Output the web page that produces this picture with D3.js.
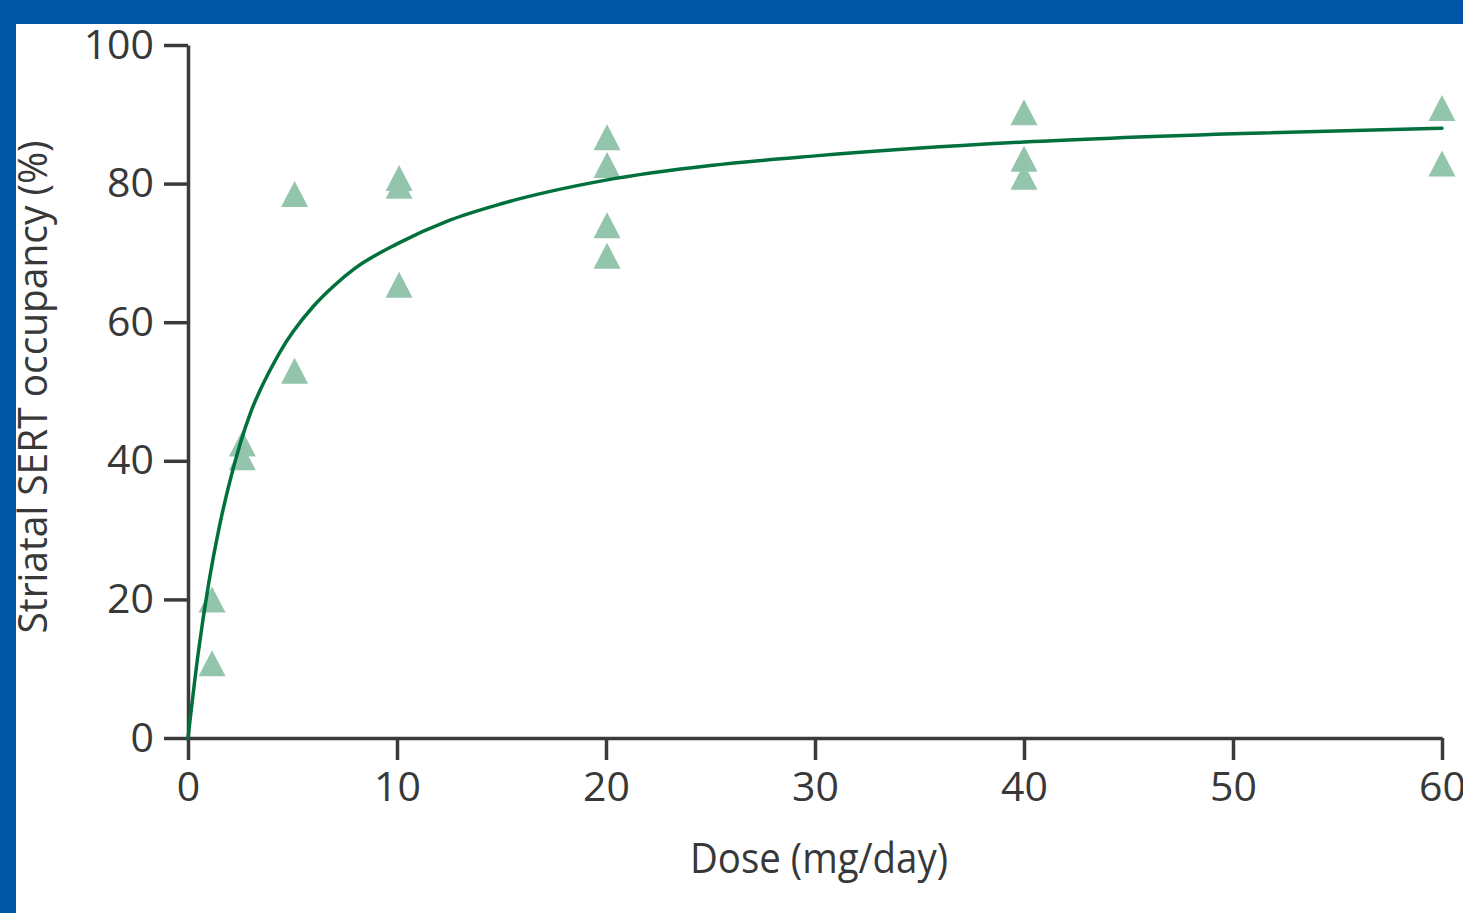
<!DOCTYPE html>
<html>
<head>
<meta charset="utf-8">
<script src="https://cdn.jsdelivr.net/npm/d3@7"></script>
<style>
  html, body { margin: 0; padding: 0; background: #ffffff; }
  svg { display: block; }
</style>
</head>
<body>
<div id="chart"></div>
<script>
// ---- data ----
const pointDose = [1.15, 1.15, 2.6, 2.6, 5.1, 5.1, 10.1, 10.1, 10.1, 20.05, 20.05, 20.05, 20.05, 40, 40, 40, 60, 60];
const pointOccupancy = [20, 10.8, 42.5, 40.5, 78.5, 53, 80.8, 79.7, 65.4, 86.7, 82.7, 74.0, 69.6, 90.3, 83.6, 81.0, 90.9, 82.9];

const curveDose = [0, 0.5, 1, 1.5, 2, 2.5, 3, 3.5, 4, 4.5, 5, 6, 7, 8, 10, 12.5, 15, 20, 25, 30, 40, 50, 60];
const curveOccupancy = [0, 12.5, 22.5, 30.5, 37, 42.5, 47, 50.5, 53.5, 56.2, 58.5, 62.3, 65.3, 67.8, 71.3, 74.7, 77.1, 80.5, 82.6, 84, 86, 87.2, 88];

const xTicks = [0, 10, 20, 30, 40, 50, 60];
const yTicks = [0, 20, 40, 60, 80, 100];
const xTitle = "Dose (mg/day)";
const yTitle = "Striatal SERT occupancy (%)";

// ---- drawing ----
const W = 1463, H = 913;
const FONT = "'Open Sans', 'DejaVu Sans', sans-serif";
const AXIS = "#3b3b3b";
const TEXT = "#383838";

const svg = d3.select("#chart").append("svg")
  .attr("width", W).attr("height", H);

svg.append("rect").attr("width", W).attr("height", H).attr("fill", "#ffffff");
svg.append("rect").attr("x", 0).attr("y", 0).attr("width", W).attr("height", 24).attr("fill", "#0055a5");
svg.append("rect").attr("x", 0).attr("y", 0).attr("width", 16).attr("height", H).attr("fill", "#0055a5");

const x = d3.scaleLinear().domain([0, 60]).range([188, 1442]);
const y = d3.scaleLinear().domain([0, 100]).range([738, 45]);

// y axis
const yAxisG = svg.append("g")
  .attr("transform", `translate(${x(0)},0)`)
  .call(d3.axisLeft(y).tickValues(yTicks).tickFormat(d3.format("d")).tickSize(24).tickSizeOuter(0).tickPadding(10));

// x axis
const xAxisG = svg.append("g")
  .attr("transform", `translate(0,${y(0)})`)
  .call(d3.axisBottom(x).tickValues(xTicks).tickFormat(d3.format("d")).tickSize(22).tickSizeOuter(0).tickPadding(12));

[yAxisG, xAxisG].forEach(g => {
  g.select(".domain").attr("stroke", AXIS).attr("stroke-width", 3.5);
  g.selectAll(".tick line").attr("stroke", AXIS).attr("stroke-width", 3.5);
  g.selectAll(".tick text")
    .attr("fill", TEXT)
    .style("font-family", FONT)
    .style("font-size", "41px");
});

// triangles
const triW = 27, triH = 26;
const triPath = (cx, cy) => {
  const p = d3.path();
  p.moveTo(cx, cy - triH / 2);
  p.lineTo(cx + triW / 2, cy + triH / 2);
  p.lineTo(cx - triW / 2, cy + triH / 2);
  p.closePath();
  return p.toString();
};

svg.append("g")
  .selectAll("path")
  .data(d3.range(pointDose.length))
  .join("path")
  .attr("d", i => triPath(x(pointDose[i]), y(pointOccupancy[i])))
  .attr("fill", "#93c4ac");

// fitted curve
const line = d3.line()
  .x(i => x(curveDose[i]))
  .y(i => y(curveOccupancy[i]))
  .curve(d3.curveMonotoneX);

svg.append("path")
  .datum(d3.range(curveDose.length))
  .attr("d", line)
  .attr("fill", "none")
  .attr("stroke", "#00703c")
  .attr("stroke-width", 3.5)
  .attr("stroke-linecap", "round");

// axis titles
svg.append("text")
  .attr("x", 819).attr("y", 873)
  .attr("text-anchor", "middle")
  .attr("fill", TEXT)
  .style("font-family", FONT)
  .style("font-size", "42px")
  .attr("textLength", 258)
  .attr("lengthAdjust", "spacingAndGlyphs")
  .text(xTitle);

svg.append("text")
  .attr("transform", "translate(47,387) rotate(-90)")
  .attr("text-anchor", "middle")
  .attr("fill", TEXT)
  .style("font-family", FONT)
  .style("font-size", "41px")
  .attr("textLength", 493)
  .attr("lengthAdjust", "spacingAndGlyphs")
  .text(yTitle);
</script>
</body>
</html>
